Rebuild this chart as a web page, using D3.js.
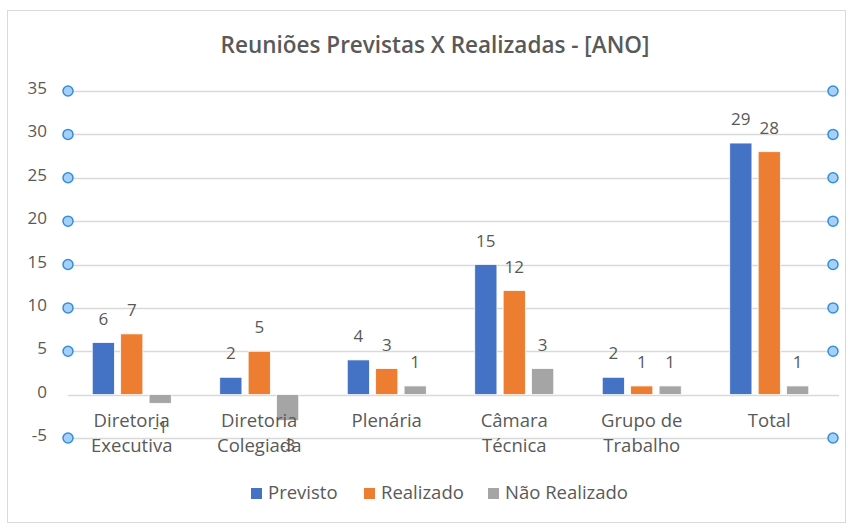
<!DOCTYPE html>
<html lang="pt">
<head>
    <meta charset="UTF-8">
    <title>Reuniões Previstas X Realizadas</title>
    <style>
        body, html {
            margin: 0;
            padding: 0;
            background: #ffffff;
            font-family: 'Open Sans', 'Noto Sans', sans-serif;
        }
        .tick-label, .value-label {
            fill: #595959;
            font-size: 17px;
        }
        .cat-label, .legend-label {
            fill: #595959;
            font-size: 18.5px;
        }
        .title {
            fill: #595959;
            font-size: 22.5px;
            font-weight: 600;
        }
    </style>
</head>
<body>
<div id="chart"></div>
<script src="https://d3js.org/d3.v7.min.js"></script>
<script>
    // Data
    const categories = [["Diretoria", "Executiva"], ["Diretoria", "Colegiada"], ["Plenária"], ["Câmara", "Técnica"], ["Grupo de", "Trabalho"], ["Total"]];
    const seriesNames = ["Previsto", "Realizado", "Não Realizado"];
    const previsto = [6, 2, 4, 15, 2, 29];
    const realizado = [7, 5, 3, 12, 1, 28];
    const naoRealizado = [-1, -3, 1, 3, 1, 1];
    const yTicks = [-5, 0, 5, 10, 15, 20, 25, 30, 35];
    const colors = ["#4472C4", "#ED7D31", "#A5A5A5"];

    const seriesValues = [previsto, realizado, naoRealizado];
    const catKeys = categories.map(c => c.join(" "));

    const width = 847, height = 526;
    const plotLeft = 68, plotRight = 833, plotTop = 91, plotBottom = 438;

    const svg = d3.select("#chart").append("svg")
        .attr("width", width)
        .attr("height", height);

    // chart frame
    svg.append("rect")
        .attr("x", 7.5).attr("y", 10.5)
        .attr("width", 838).attr("height", 512)
        .attr("fill", "#fff")
        .attr("stroke", "#d9d9d9");

    svg.append("text")
        .attr("class", "title")
        .attr("x", 435).attr("y", 53)
        .attr("text-anchor", "middle")
        .text("Reuniões Previstas X Realizadas - [ANO]");

    const y = d3.scaleLinear().domain([-5, 35]).range([plotBottom, plotTop]);
    const x0 = d3.scaleBand().domain(catKeys).range([plotLeft, plotRight]);
    const groupW = 79;
    const x1 = d3.scaleBand().domain(seriesNames)
        .range([(x0.step() - groupW) / 2, (x0.step() + groupW) / 2])
        .paddingInner(0.22);

    // gridlines
    svg.append("g").selectAll("line")
        .data(yTicks)
        .join("line")
        .attr("x1", plotLeft).attr("x2", d => d === 0 ? plotRight + 6 : plotRight)
        .attr("y1", d => Math.round(y(d)) + 0.5)
        .attr("y2", d => Math.round(y(d)) + 0.5)
        .attr("stroke", "#d9d9d9")
        .attr("stroke-width", 1.5);

    // tick labels
    svg.append("g").selectAll("text")
        .data(yTicks)
        .join("text")
        .attr("class", "tick-label")
        .attr("x", 47)
        .attr("y", d => y(d) + 3)
        .attr("text-anchor", "end")
        .text(d => d);

    // bars
    const groups = svg.append("g").selectAll("g")
        .data(catKeys)
        .join("g")
        .attr("transform", d => `translate(${x0(d)},0)`);

    groups.each(function(cat, ci) {
        const g = d3.select(this);
        seriesNames.forEach((s, si) => {
            const v = seriesValues[si][ci];
            g.append("rect")
                .attr("x", x1(s))
                .attr("width", x1.bandwidth())
                .attr("y", y(Math.max(0, v)))
                .attr("height", Math.abs(y(v) - y(0)))
                .attr("fill", colors[si])
                .attr("stroke", "#fff")
                .attr("stroke-width", 0.75);
            g.append("text")
                .attr("class", "value-label")
                .attr("x", x1(s) + x1.bandwidth() / 2)
                .attr("y", v >= 0 ? y(v) - 18 : y(v) + 30)
                .attr("text-anchor", "middle")
                .text(v);
        });
    });

    // category labels
    const catLabels = svg.append("g").selectAll("text")
        .data(categories)
        .join("text")
        .attr("class", "cat-label")
        .attr("text-anchor", "middle")
        .attr("x", (d, i) => x0(catKeys[i]) + x0.bandwidth() / 2)
        .attr("y", 427);
    catLabels.selectAll("tspan")
        .data(d => d)
        .join("tspan")
        .attr("x", function() { return this.parentNode.getAttribute("x"); })
        .attr("dy", (d, i) => i === 0 ? 0 : 25)
        .text(d => d);

    // handle circles
    const handles = yTicks.filter(t => t !== 0);
    [plotLeft, plotRight].forEach(cx => {
        svg.append("g").selectAll("circle")
            .data(handles)
            .join("circle")
            .attr("cx", cx)
            .attr("cy", d => y(d))
            .attr("r", 5)
            .attr("fill", "#a8d0f7")
            .attr("stroke", "#2f8fe0")
            .attr("stroke-width", 1.5);
    });

    // legend
    const legendX = [251, 364, 488];
    const legend = svg.append("g").selectAll("g")
        .data(seriesNames)
        .join("g")
        .attr("transform", (d, i) => `translate(${legendX[i]},487)`);
    legend.append("rect")
        .attr("y", 1)
        .attr("width", 11).attr("height", 11)
        .attr("fill", (d, i) => colors[i]);
    legend.append("text")
        .attr("class", "legend-label")
        .attr("x", 17).attr("y", 12)
        .text(d => d);
</script>
</body>
</html>
